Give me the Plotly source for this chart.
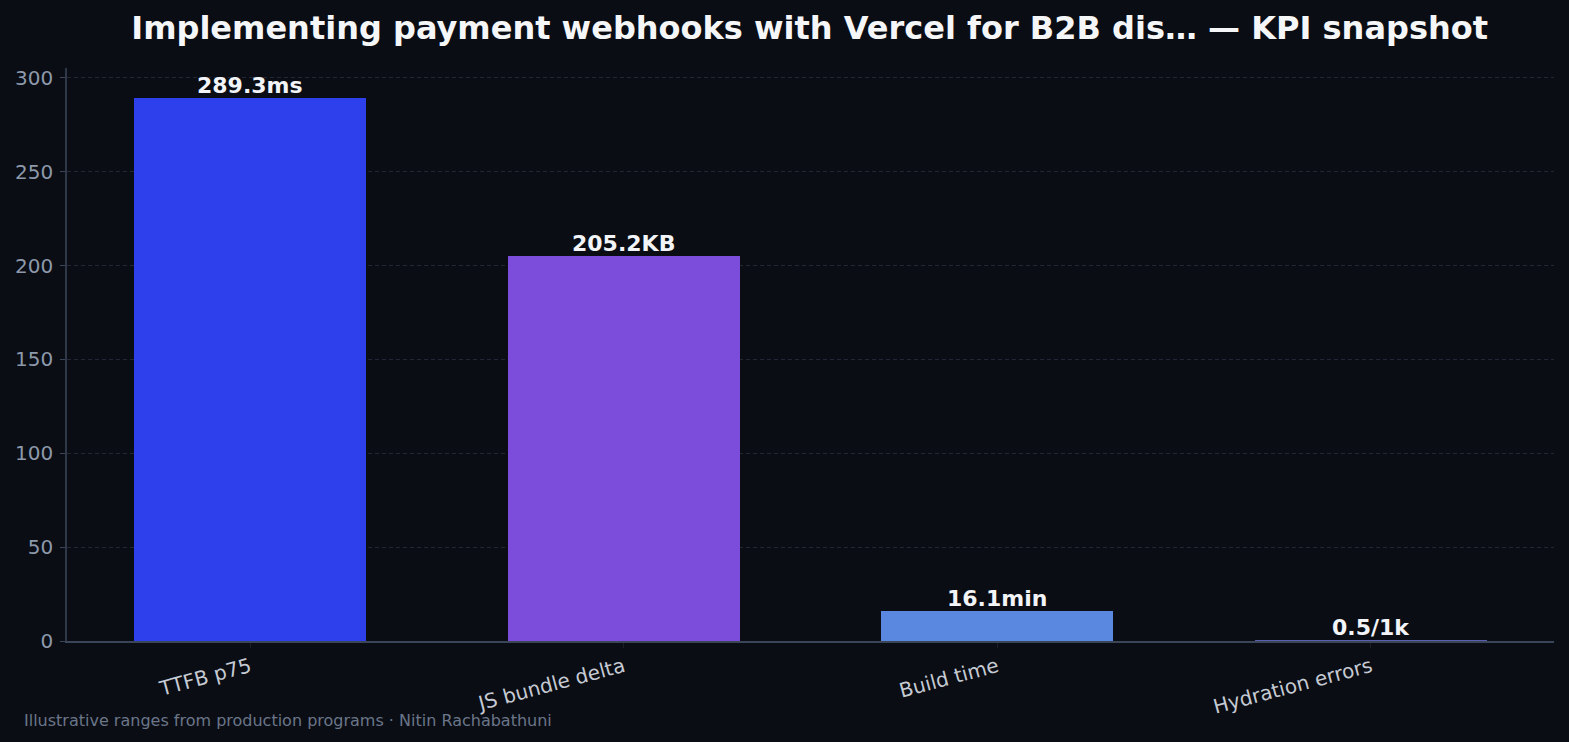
import plotly.graph_objects as go

categories = ["TTFB p75", "JS bundle delta", "Build time", "Hydration errors"]
values = [289.3, 205.2, 16.1, 0.5]
value_labels = ["289.3ms", "205.2KB", "16.1min", "0.5/1k"]
bar_colors = ["#2e40ec", "#7c4ddb", "#5a87e0", "#5a5fb0"]
y_ticks = [0, 50, 100, 150, 200, 250, 300]

BG = "#0a0d14"
FONT = "DejaVu Sans"

fig = go.Figure()
fig.add_trace(go.Bar(
    x=list(range(len(categories))),
    y=values,
    width=0.62,
    marker=dict(color=bar_colors, line=dict(width=0)),
    hoverinfo="skip",
))

for i, (v, lab) in enumerate(zip(values, value_labels)):
    fig.add_annotation(
        x=i, y=v, xref="x", yref="y",
        text=f"<b>{lab}</b>", showarrow=False,
        xanchor="center", yanchor="bottom", yshift=-2,
        font=dict(family=FONT, size=22, color="#f2f4f8"),
    )

fig.update_layout(
    width=1569, height=742,
    paper_bgcolor=BG, plot_bgcolor=BG,
    margin=dict(l=67, r=15, t=68, b=101),
    showlegend=False,
    bargap=0,
    title=dict(
        text="<b>Implementing payment webhooks with Vercel for B2B dis… — KPI snapshot</b>",
        x=0.516, xanchor="center", y=0.962, yanchor="middle",
        font=dict(family=FONT, size=32, color="#f5f6f8"),
    ),
)

fig.update_xaxes(
    range=[-0.49, 3.49],
    tickmode="array",
    tickvals=list(range(len(categories))),
    ticktext=categories,
    tickangle=-15,
    tickfont=dict(family=FONT, size=20, color="#c5cad3"),
    ticks="outside", ticklen=5, tickcolor="#1a1f2a", tickwidth=1,
    showline=True, linecolor="#3a4558", linewidth=1.5,
    showgrid=False, zeroline=False,
    layer="above traces",
)

fig.update_yaxes(
    range=[0, 305.3],
    tickmode="array",
    tickvals=y_ticks,
    tickfont=dict(family=FONT, size=20, color="#8d99ab"),
    ticks="outside", ticklen=5, tickcolor="#3a4558", tickwidth=1,
    ticklabelstandoff=3,
    showline=True, linecolor="#2f3848", linewidth=1.5,
    showgrid=True, gridcolor="rgba(55,62,82,0.55)", griddash="4px,3px", gridwidth=1,
    zeroline=False,
    layer="above traces",
)

fig.add_annotation(
    text="Illustrative ranges from production programs · Nitin Rachabathuni",
    xref="paper", yref="paper", x=-0.030, y=-0.138,
    xanchor="left", yanchor="middle", showarrow=False,
    font=dict(family=FONT, size=16, color="#6b7689"),
)

fig.write_html("out.html")
